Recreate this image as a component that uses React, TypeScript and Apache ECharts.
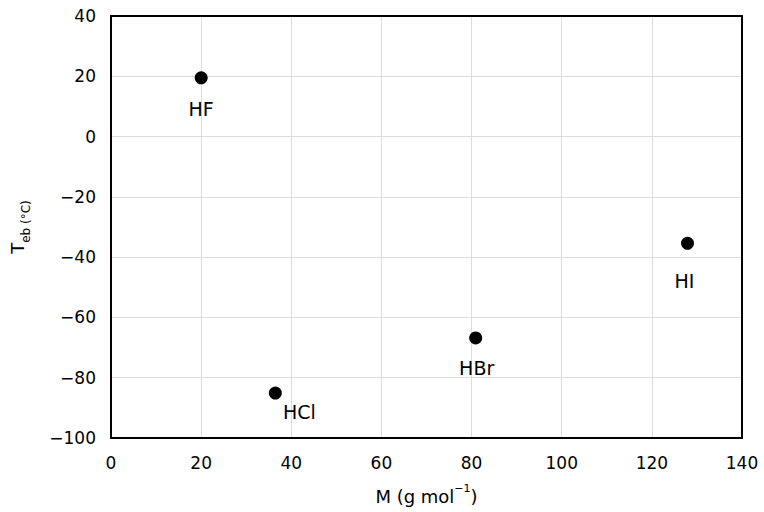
import React, { useEffect, useRef } from "react";
import * as echarts from "echarts";

const compounds = ["HF", "HCl", "HBr", "HI"];
const molarMass = [20.01, 36.46, 80.91, 127.91];
const boilingPoint = [19.5, -85.1, -66.8, -35.4];

const xMin = 0;
const xMax = 140;
const xStep = 20;
const yMin = -100;
const yMax = 40;
const yStep = 20;

const FONT = "'DejaVu Sans', 'Liberation Sans', Arial, sans-serif";

export default function App() {
  const ref = useRef<HTMLDivElement>(null);

  useEffect(() => {
    document.body.style.margin = "0";
    if (!ref.current) return;
    const chart = echarts.init(ref.current, undefined, { renderer: "svg" });

    const labelOffsets: Record<string, [number, number]> = {
      HF: [0, 31],
      HCl: [24, 19],
      HBr: [1, 30],
      HI: [-3, 38],
    };

    const fmtMinus = (v: number) => String(v).replace("-", "\u2212");
    const frameLine = { show: true, onZero: false, lineStyle: { color: "#000", width: 2 } };

    chart.setOption({
      animation: false,
      backgroundColor: "#ffffff",
      grid: {
        left: 111,
        right: 22,
        top: 16,
        bottom: 74,
        show: false,
        containLabel: false,
        outerBoundsMode: "none",
      },
      xAxis: [
        {
          type: "value",
          position: "bottom",
          min: xMin,
          max: xMax,
          interval: xStep,
          name: "{b|M (g mol}{sup|\u22121}{b|)}",
          nameLocation: "middle",
          nameGap: 45,
          nameTextStyle: {
            rich: {
              b: { fontFamily: FONT, fontSize: 18, color: "#000", lineHeight: 22, verticalAlign: "bottom" },
              sup: { fontFamily: FONT, fontSize: 11, color: "#000", lineHeight: 12, verticalAlign: "top" },
            },
          },
          axisLine: frameLine,
          axisTick: { show: false },
          splitLine: { show: true, lineStyle: { color: "#dcdcdc", width: 1 } },
          axisLabel: {
            fontFamily: FONT,
            fontSize: 17,
            color: "#000",
            margin: 16,
            formatter: fmtMinus,
          },
        },
        {
          type: "value",
          position: "top",
          min: xMin,
          max: xMax,
          interval: xStep,
          axisLine: frameLine,
          axisTick: { show: false },
          axisLabel: { show: false },
          splitLine: { show: false },
        },
      ],
      yAxis: [
        {
          type: "value",
          position: "left",
          min: yMin,
          max: yMax,
          interval: yStep,
          name: "{t|T}{s|eb (\u00b0C)}",
          nameLocation: "middle",
          nameRotate: 90,
          nameGap: 67,
          nameTextStyle: {
            rich: {
              t: { fontFamily: FONT, fontSize: 18, color: "#000", lineHeight: 17, verticalAlign: "top" },
              s: { fontFamily: FONT, fontSize: 12, color: "#000", lineHeight: 36, verticalAlign: "middle" },
            },
          },
          axisLine: frameLine,
          axisTick: { show: false },
          splitLine: { show: true, lineStyle: { color: "#dcdcdc", width: 1 } },
          axisLabel: {
            fontFamily: FONT,
            fontSize: 17,
            color: "#000",
            margin: 15,
            formatter: fmtMinus,
          },
        },
        {
          type: "value",
          position: "right",
          min: yMin,
          max: yMax,
          interval: yStep,
          axisLine: frameLine,
          axisTick: { show: false },
          axisLabel: { show: false },
          splitLine: { show: false },
        },
      ],
      series: [
        {
          type: "scatter",
          symbol: "circle",
          symbolSize: 13,
          itemStyle: { color: "#000", opacity: 1 },
          data: compounds.map((name, i) => ({
            name,
            value: [molarMass[i], boilingPoint[i]],
            label: {
              show: true,
              position: "inside",
              offset: labelOffsets[name],
              formatter: name,
              fontFamily: FONT,
              fontSize: 19,
              color: "#000",
              opacity: 1,
            },
          })),
        },
      ],
    });

    return () => chart.dispose();
  }, []);

  return <div ref={ref} style={{ width: 764, height: 512 }} />;
}
